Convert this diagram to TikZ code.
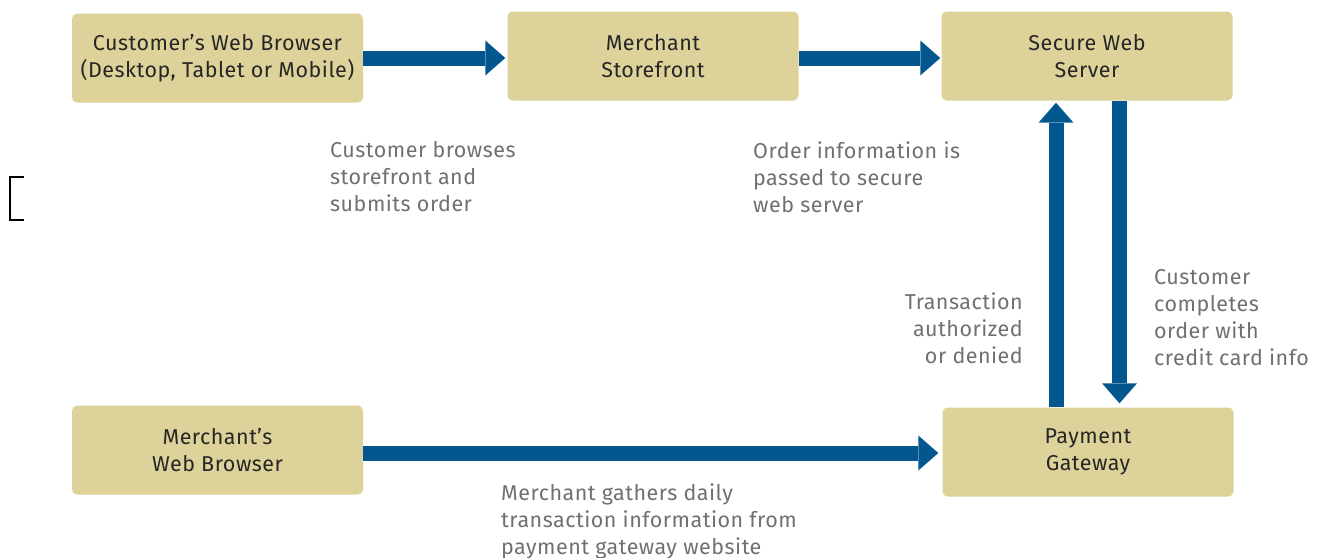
\documentclass[tikz,border=0pt]{standalone}
\usepackage{fontspec}
\setmainfont[LetterSpace=2.3]{Fira Sans}
\usetikzlibrary{arrows.meta,calc}
\definecolor{boxfill}{HTML}{DDD39A}
\definecolor{arrowblue}{HTML}{03578F}
\definecolor{boxtext}{HTML}{262626}
\definecolor{labeltext}{HTML}{707070}
\tikzset{
  box/.style={fill=boxfill, rounded corners=5pt, minimum width=291pt, minimum height=89pt,
    inner sep=0pt, align=center, text=boxtext, font=\fontsize{21.5}{27}\selectfont},
  lbl/.style={inner sep=0pt, text=labeltext, font=\fontsize{21.5}{27}\selectfont},
  flow/.style={arrowblue, line width=15pt,
    -{Triangle[width=35pt,length=20pt,line width=0pt]}},
}
\begin{document}
\begin{tikzpicture}[x=1pt,y=-1pt]
\useasboundingbox (0,0) rectangle (1319,557);
\node[box] (b1) at (217.5,58) {Customer's Web Browser\\(Desktop, Tablet or Mobile)};
\node[box] (b2) at (653,56) {Merchant\\Storefront};
\node[box] (b3) at (1087,56) {Secure Web\\Server};
\node[box] (b4) at (217.5,450) {Merchant's\\Web Browser};
\node[box] (b5) at (1088,452) {Payment\\Gateway};

\coordinate (a1) at ($(b1.east)+(0,0)$);
\draw[flow, shorten >=2pt] (a1) -- (a1 -| b2.west);
\coordinate (a2) at ($(b2.east)+(0,2)$);
\draw[flow, shorten >=1pt] (a2) -- (a2 -| b3.west);
\coordinate (a3) at ($(b4.east)+(0,3)$);
\draw[flow, shorten >=4pt] (a3) -- (a3 -| b5.west);
\coordinate (u) at (1056,0);
\draw[flow, shorten >=2pt] (u |- b5.north) -- (u |- b3.south);
\coordinate (d) at (1119.5,0);
\draw[flow, shorten >=4pt] (d |- b3.south) -- (d |- b5.north);

\node[lbl, anchor=north west, align=left] (l1) at (330,141.5) {Customer browses\\storefront and\\submits order};
\node[lbl, anchor=north west, align=left] (l2) at (753,141.5) {Order information is\\passed to secure\\web server};
\node[lbl, anchor=north east, align=right] (l3) at (1023,292.5) {Transaction\\authorized\\or denied};
\node[lbl, anchor=north west, align=left] (l4) at (1154,269.5) {Customer\\completes\\order with\\credit card info};
\node[lbl, anchor=north west, align=left] (l5) at (501,483.5) {Merchant gathers daily\\transaction information from\\payment gateway website};

\draw[line width=2pt] (24,177) -- (10,177) -- (10,220) -- (24,220);
\end{tikzpicture}
\end{document}
